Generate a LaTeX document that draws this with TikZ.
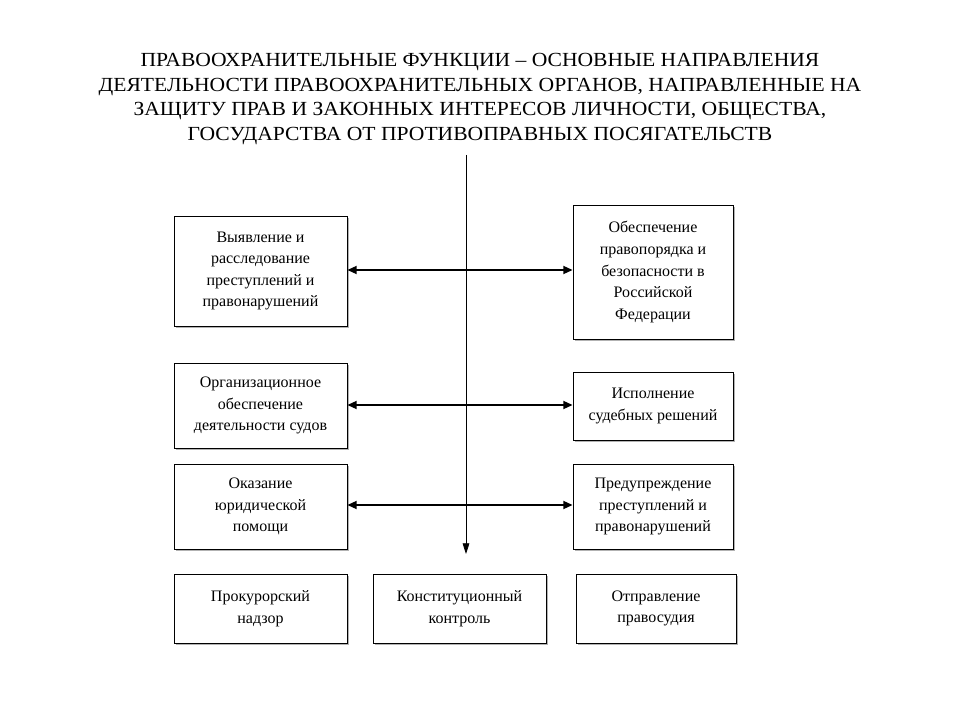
\documentclass[tikz,border=0pt]{standalone}
\usepackage{fontspec}
\setmainfont{Liberation Serif}
\usetikzlibrary{arrows.meta,shadows}
\begin{document}
\begin{tikzpicture}[x=0.75pt,y=-0.75pt,
  box/.style={draw=black, line width=0.6pt, fill=white, align=center, inner sep=0pt,
    font=\fontsize{12}{16.2}\selectfont,
    drop shadow={shadow xshift=1.2pt, shadow yshift=-1.2pt, fill=gray!60, opacity=1}},
  conn/.style={line width=1.4pt, {Triangle[length=7pt,width=6pt]}-{Triangle[length=7pt,width=6pt]}},
  vline/.style={line width=0.6pt, -{Triangle[length=8pt,width=5pt]}}]
\useasboundingbox (0,0) rectangle (960,720);
\fill[white] (0,0) rectangle (960,720);
\node[align=center, font=\fontsize{15}{18.4}\selectfont\addfontfeature{FakeStretch=1.08}] (title) at (480,99)
 {ПРАВООХРАНИТЕЛЬНЫЕ ФУНКЦИИ – ОСНОВНЫЕ НАПРАВЛЕНИЯ\\
 ДЕЯТЕЛЬНОСТИ ПРАВООХРАНИТЕЛЬНЫХ ОРГАНОВ, НАПРАВЛЕННЫЕ НА\\
 ЗАЩИТУ ПРАВ И ЗАКОННЫХ ИНТЕРЕСОВ ЛИЧНОСТИ, ОБЩЕСТВА,\\
 ГОСУДАРСТВА ОТ ПРОТИВОПРАВНЫХ ПОСЯГАТЕЛЬСТВ};
% boxes
\node[box, minimum width=173*0.75pt, minimum height=110*0.75pt] (b1) at (260.5,271)
 {Выявление и\\расследование\\преступлений и\\правонарушений};
\node[box, minimum width=160*0.75pt, minimum height=134*0.75pt] (b2) at (653,272)
 {Обеспечение\\правопорядка и\\безопасности в\\Российской\\Федерации};
\node[box, minimum width=173*0.75pt, minimum height=85*0.75pt] (b3) at (260.5,405.5)
 {Организационное\\обеспечение\\деятельности судов};
\node[box, minimum width=160*0.75pt, minimum height=68*0.75pt] (b4) at (653,406)
 {Исполнение\\судебных решений};
\node[box, minimum width=173*0.75pt, minimum height=85*0.75pt] (b5) at (260.5,506.5)
 {Оказание\\юридической\\помощи};
\node[box, minimum width=160*0.75pt, minimum height=85*0.75pt] (b6) at (653,506.5)
 {Предупреждение\\преступлений и\\правонарушений};
\node[box, minimum width=173*0.75pt, minimum height=69*0.75pt] (b7) at (260.5,608.5)
 {Прокурорский\\надзор};
\node[box, minimum width=173*0.75pt, minimum height=69*0.75pt] (b8) at (459.5,608.5)
 {Конституционный\\контроль};
\node[box, minimum width=160*0.75pt, minimum height=69*0.75pt] (b9) at (656,608.5)
 {Отправление\\правосудия};
% vertical line
\coordinate (vtop) at (466,155);
\coordinate (vbot) at (466,554);
\draw[vline] (vtop) -- (vbot);
% horizontal arrows
\draw[conn] (b1.east |- 0,270) -- (b2.west |- 0,270);
\draw[conn] (b3.east |- 0,405) -- (b4.west |- 0,405);
\draw[conn] (b5.east |- 0,505) -- (b6.west |- 0,505);
\end{tikzpicture}
\end{document}
